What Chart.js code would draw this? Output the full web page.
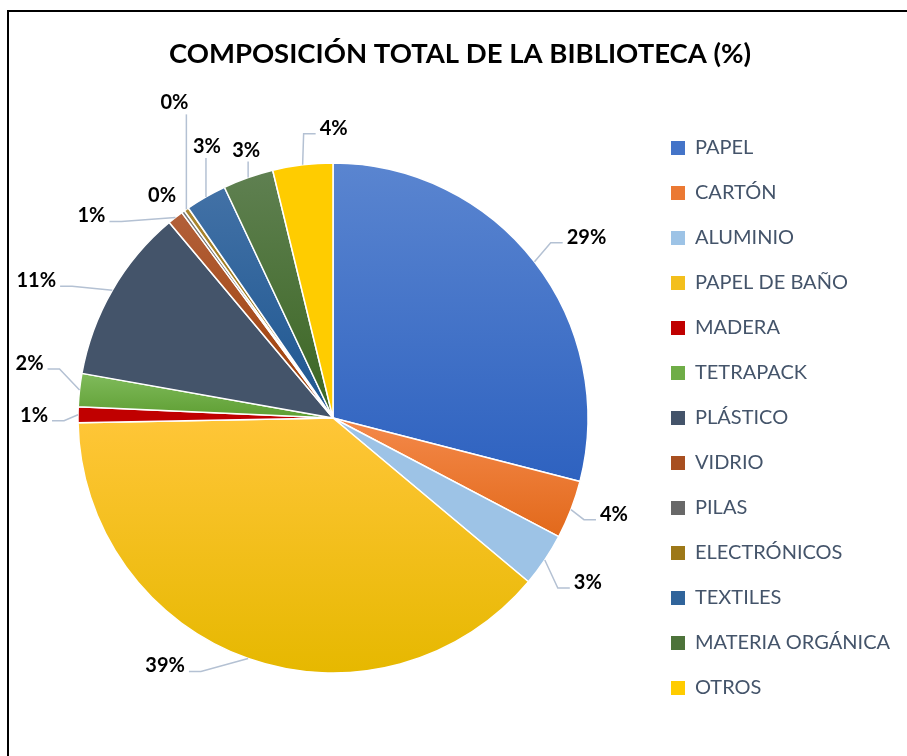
<!DOCTYPE html>
<html>
<head>
<meta charset="utf-8">
<script src="https://cdn.jsdelivr.net/npm/chart.js"></script>
<style>
  html, body { margin: 0; padding: 0; background: #fff; }
</style>
</head>
<body>
<canvas id="myChart" width="907" height="756"></canvas>
<script>
const chartTitle = 'COMPOSICIÓN TOTAL DE LA BIBLIOTECA (%)';
const categories = ['PAPEL', 'CARTÓN', 'ALUMINIO', 'PAPEL DE BAÑO', 'MADERA', 'TETRAPACK', 'PLÁSTICO',
  'VIDRIO', 'PILAS', 'ELECTRÓNICOS', 'TEXTILES', 'MATERIA ORGÁNICA', 'OTROS'];
const values = [29.0, 3.7, 3.4, 38.6, 1.0, 2.1, 11.1, 1.0, 0.2, 0.3, 2.6, 3.2, 3.8];

// slice fill: top and bottom of a vertical gradient (same colour = flat fill)
const colorTop = ['#5a85d0', '#f4894a', '#9dc3e6', '#ffc638', '#c00000', '#80bb5c', '#44546a',
  '#b2603a', '#7a7a7a', '#aa8630', '#4271a6', '#5f8051', '#ffcc00'];
const colorBottom = ['#2e62c0', '#e2691b', '#9dc3e6', '#e6b800', '#c00000', '#5e9e32', '#44546a',
  '#9e3e05', '#555555', '#8f6a00', '#1d5690', '#3b6622', '#ffcc00'];

// where each percentage label sits, relative to the outer edge of its slice
const labelOffsets = [[52, -25], [43, 4], [43, 22], [-83, 7], [-44, 0], [-50, -27], [-76, -10],
  [-84, -2], [-21, -17], [-12, -107], [1, -51], [-2, -28], [31, -37]];
const noLeader = [8];

const PIE_RADIUS = 255;
const AREA_RIGHT = 646;

function mix(a, b) {
  const p = h => [1, 3, 5].map(k => parseInt(h.slice(k, k + 2), 16));
  const x = p(a), y = p(b);
  return 'rgb(' + x.map((v, k) => Math.round((v + y[k]) / 2)).join(',') + ')';
}

function sliceFill(context) {
  const i = context.dataIndex;
  const chart = context.chart;
  const area = chart.chartArea;
  if (!area || colorTop[i] === colorBottom[i]) return colorTop[i];
  const total = values.reduce((a, b) => a + b, 0);
  const before = values.slice(0, i).reduce((a, b) => a + b, 0);
  const a0 = -Math.PI / 2 + 2 * Math.PI * before / total;
  const a1 = a0 + 2 * Math.PI * values[i] / total;
  const cy = (area.top + area.bottom) / 2;
  let top = cy, bottom = cy;
  const angles = [a0, a1];
  [-Math.PI / 2, Math.PI / 2, 3 * Math.PI / 2].forEach(e => { if (e > a0 && e < a1) angles.push(e); });
  angles.forEach(a => {
    const y = cy + PIE_RADIUS * Math.sin(a);
    top = Math.min(top, y);
    bottom = Math.max(bottom, y);
  });
  const g = chart.ctx.createLinearGradient(0, top, 0, bottom);
  g.addColorStop(0, colorTop[i]);
  g.addColorStop(1, colorBottom[i]);
  return g;
}

const framePlugin = {
  id: 'frame',
  beforeDraw(chart) {
    const ctx = chart.ctx;
    ctx.save();
    ctx.fillStyle = '#000';
    ctx.fillRect(7, 10, chart.width - 7, 2);
    ctx.fillRect(7, 10, 2, chart.height - 10);
    ctx.restore();
  }
};

const labelPlugin = {
  id: 'pctLabels',
  afterDatasetsDraw(chart) {
    const ctx = chart.ctx;
    const total = values.reduce((a, b) => a + b, 0);
    ctx.save();
    ctx.font = 'bold 20px Lato';
    ctx.textAlign = 'center';
    ctx.textBaseline = 'alphabetic';
    ctx.strokeStyle = '#b4c1d3';
    ctx.lineWidth = 1.5;
    chart.getDatasetMeta(0).data.forEach((arc, i) => {
      const {x, y, startAngle, endAngle, outerRadius} =
        arc.getProps(['x', 'y', 'startAngle', 'endAngle', 'outerRadius'], true);
      const mid = (startAngle + endAngle) / 2;
      const ax = x + Math.cos(mid) * outerRadius;
      const ay = y + Math.sin(mid) * outerRadius;
      const lx = ax + labelOffsets[i][0];
      const ly = ay + labelOffsets[i][1];
      const text = Math.round(values[i] / total * 100) + '%';
      const w = ctx.measureText(text).width;

      if (!noLeader.includes(i)) {
        ctx.beginPath();
        if (Math.abs(lx - ax) < w / 2) {
          ctx.moveTo(ax, ay);
          ctx.lineTo(ax, ly < ay ? ly + 12 : ly - 12);
        } else {
          const side = lx > ax ? 1 : -1;
          const ex = lx - side * (w / 2 + 4);
          let elx = ex - side * 12;
          elx = side > 0 ? Math.max(elx, ax) : Math.min(elx, ax);
          const ey = ly + 6;
          ctx.moveTo(ax, ay);
          ctx.lineTo(elx, ey);
          ctx.lineTo(ex, ey);
        }
        ctx.stroke();
      }
      ctx.fillStyle = '#000';
      ctx.fillText(text, lx, ly + 7);
    });
    ctx.restore();
  }
};

const chart = new Chart(document.getElementById('myChart'), {
  type: 'pie',
  data: {
    labels: categories,
    datasets: [{
      data: values,
      backgroundColor: sliceFill,
      borderColor: '#ffffff',
      borderWidth: 1.5,
      radius: PIE_RADIUS
    }]
  },
  options: {
    responsive: false,
    animation: false,
    layout: { padding: { top: 10, left: 20, right: 10, bottom: 31 } },
    plugins: {
      title: {
        display: true,
        text: chartTitle,
        color: '#000',
        font: { family: 'Lato', size: 27.5, weight: 'bold', lineHeight: 1.2 },
        padding: { top: 28, bottom: 40 }
      },
      legend: {
        position: 'right',
        fullSize: false,
        labels: {
          boxWidth: 14,
          boxHeight: 14,
          padding: 25,
          color: '#44546a',
          font: { family: 'Lato', size: 20 },
          generateLabels: () => categories.map((c, i) => ({
            text: c,
            fillStyle: mix(colorTop[i], colorBottom[i]),
            strokeStyle: mix(colorTop[i], colorBottom[i]),
            fontColor: '#44546a',
            lineWidth: 0,
            hidden: false,
            index: i
          }))
        }
      },
      tooltip: { enabled: false }
    }
  },
  plugins: [framePlugin, labelPlugin]
});

// keep the pie centred where the legend leaves it
const shift = chart.chartArea.right - AREA_RIGHT;
if (Math.abs(shift) > 0.5) {
  chart.options.layout.padding.right += shift;
  chart.update();
}
</script>
</body>
</html>
